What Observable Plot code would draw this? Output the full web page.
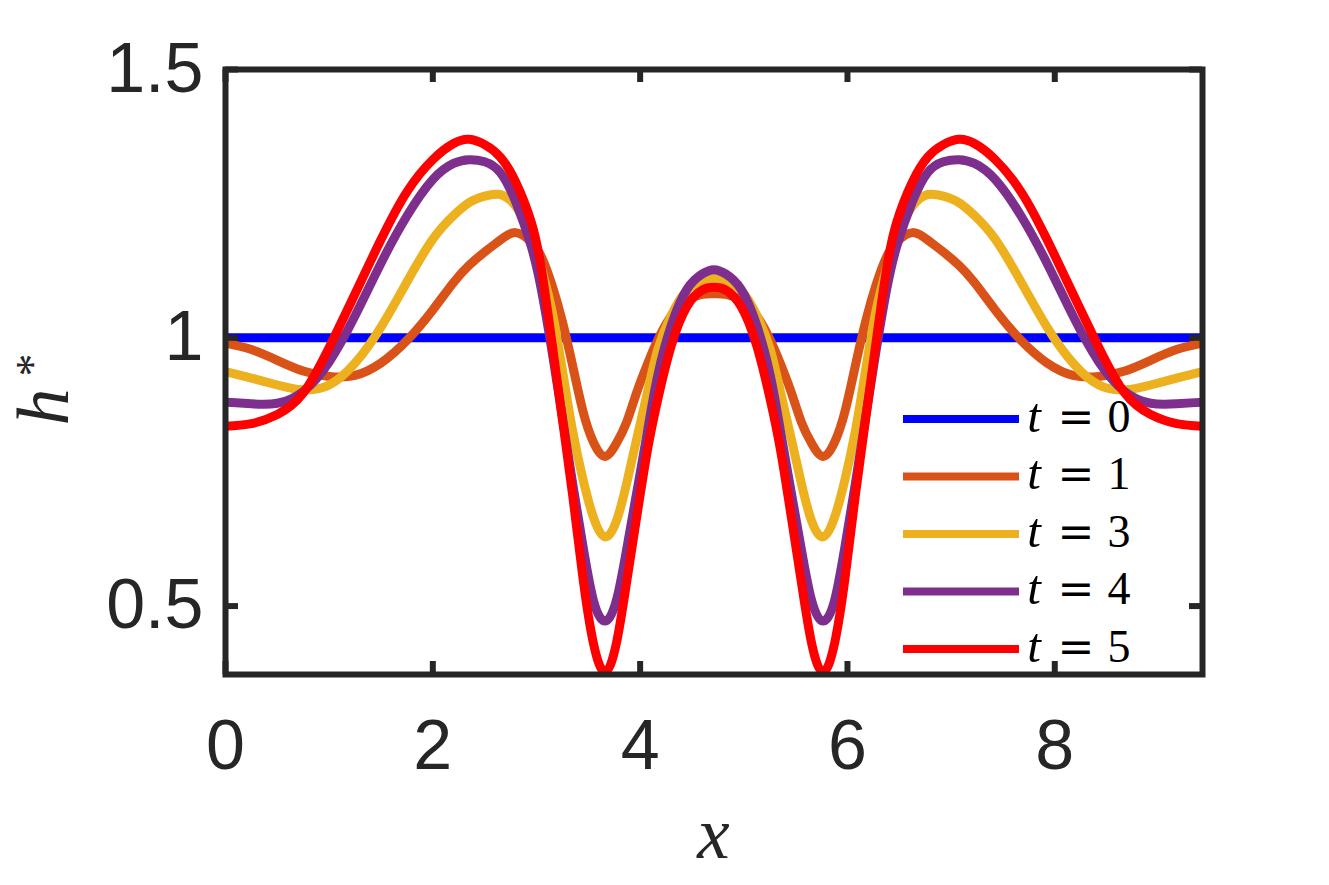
<!DOCTYPE html>
<html>
<head>
<meta charset="utf-8">
<script src="https://cdn.jsdelivr.net/npm/d3@7"></script>
<script src="https://cdn.jsdelivr.net/npm/@observablehq/plot@0.6"></script>
<style>
  body { margin: 0; background: #fff; }
  #chart svg { display: block; }
</style>
</head>
<body>
<div id="chart"></div>
<script>
// ---- data ----
const xGrid = [
  0, 0.25, 0.5, 0.75, 1.0, 1.25, 1.5, 1.75, 2.0, 2.2, 2.35, 2.5, 2.65, 2.8, 2.95, 3.05,
  3.15, 3.25, 3.35, 3.45, 3.55, 3.66, 3.77, 3.87, 3.97, 4.07, 4.17, 4.3, 4.45, 4.6, 4.712,
  4.825, 4.975, 5.125, 5.255, 5.355, 5.455, 5.555, 5.655, 5.765, 5.875, 5.975, 6.075,
  6.175, 6.275, 6.375, 6.475, 6.625, 6.775, 6.925, 7.075, 7.225, 7.425, 7.675, 7.925,
  8.175, 8.425, 8.675, 8.925, 9.175, 9.425
];

const h0x = [0, 9.425];
const h0 = [1, 1];

const h1 = [
  0.990, 0.978, 0.958, 0.938, 0.928, 0.930, 0.953, 0.995, 1.052, 1.103, 1.135, 1.160, 1.182, 1.196, 1.178, 1.150,
  1.098, 1.030, 0.947, 0.862, 0.805, 0.779, 0.803, 0.843, 0.900, 0.951, 0.996, 1.041, 1.070, 1.081, 1.082,
  1.081, 1.070, 1.041, 0.996, 0.951, 0.900, 0.843, 0.803, 0.779, 0.805, 0.862, 0.947,
  1.030, 1.098, 1.150, 1.178, 1.196, 1.182, 1.160, 1.135, 1.103, 1.052, 0.995, 0.953,
  0.930, 0.928, 0.938, 0.958, 0.978, 0.990
];

const h3 = [
  0.937, 0.925, 0.912, 0.903, 0.912, 0.953, 1.020, 1.104, 1.184, 1.228, 1.252, 1.264, 1.267, 1.245, 1.190, 1.128,
  1.050, 0.940, 0.825, 0.735, 0.665, 0.629, 0.658, 0.729, 0.814, 0.898, 0.978, 1.042, 1.088, 1.105, 1.111,
  1.105, 1.088, 1.042, 0.978, 0.898, 0.814, 0.729, 0.658, 0.629, 0.665, 0.735, 0.825,
  0.940, 1.050, 1.128, 1.190, 1.245, 1.267, 1.264, 1.252, 1.228, 1.184, 1.104, 1.020,
  0.953, 0.912, 0.903, 0.912, 0.925, 0.937
];

const h4 = [
  0.880, 0.877, 0.878, 0.900, 0.955, 1.041, 1.139, 1.227, 1.295, 1.325, 1.332, 1.328, 1.308, 1.253, 1.170, 1.087,
  0.975, 0.852, 0.727, 0.610, 0.510, 0.472, 0.510, 0.606, 0.715, 0.825, 0.930, 1.023, 1.090, 1.119, 1.127,
  1.119, 1.090, 1.023, 0.930, 0.825, 0.715, 0.606, 0.510, 0.472, 0.510, 0.610, 0.727,
  0.852, 0.975, 1.087, 1.170, 1.253, 1.308, 1.328, 1.332, 1.325, 1.295, 1.227, 1.139,
  1.041, 0.955, 0.900, 0.878, 0.877, 0.880
];

const h5 = [
  0.835, 0.840, 0.857, 0.897, 0.982, 1.082, 1.183, 1.272, 1.332, 1.362, 1.370, 1.360, 1.337, 1.290, 1.215, 1.125,
  0.990, 0.848, 0.705, 0.550, 0.430, 0.377, 0.430, 0.545, 0.670, 0.790, 0.885, 0.985, 1.058, 1.089, 1.094,
  1.089, 1.058, 0.985, 0.885, 0.790, 0.670, 0.545, 0.430, 0.377, 0.430, 0.550, 0.705,
  0.848, 0.990, 1.125, 1.215, 1.290, 1.337, 1.360, 1.370, 1.362, 1.332, 1.272, 1.183,
  1.082, 0.982, 0.897, 0.857, 0.840, 0.835
];

const seriesTimes = [0, 1, 3, 4, 5];
const seriesColors = ["#0000FF", "#D95319", "#EDB120", "#7E2F8E", "#FF0000"];
const xTicks = [0, 2, 4, 6, 8];
const xTickLabels = ["0", "2", "4", "6", "8"];
const yTicks = [0.5, 1, 1.5];
const yTickLabels = ["0.5", "1", "1.5"];
const xLabel = "x";
const yLabel = "h";
const yLabelSup = "*";

// ---- table for the library ----
const rows = [];
h0x.forEach((x, i) => rows.push({t: 0, x, h: h0[i]}));
[[1, h1], [3, h3], [4, h4], [5, h5]].forEach(([t, arr]) =>
  arr.forEach((h, i) => rows.push({t, x: xGrid[i], h}))
);

// ---- layout ----
const W = 1329, H = 885;
const mL = 225, mR = 127, mT = 69, mB = 211;
const innerW = W - mL - mR, innerH = H - mT - mB;
const sans = "'Liberation Sans', Arial, Helvetica, sans-serif";
const serif = "'Liberation Serif', 'Times New Roman', serif";
const axisColor = "#262626";
const tickLen = 13;

const plot = Plot.plot({
  width: W, height: H,
  marginLeft: mL, marginRight: mR, marginTop: mT, marginBottom: mB,
  style: {background: "#fff", fontFamily: sans, overflow: "visible"},
  x: {domain: [0, 9.425]},
  y: {domain: [0.3725, 1.5]},
  color: {type: "ordinal", domain: seriesTimes, range: seriesColors},
  marks: [
    Plot.line(rows, {x: "x", y: "h", z: "t", stroke: "t", strokeWidth: 9, strokeLinejoin: "round", strokeLinecap: "butt", curve: "natural"}),
    Plot.tickX(xTicks, {x: d => d, stroke: axisColor, strokeWidth: 6, insetTop: innerH - tickLen}),
    Plot.tickX(xTicks, {x: d => d, stroke: axisColor, strokeWidth: 6, insetBottom: innerH - tickLen}),
    Plot.tickY(yTicks, {y: d => d, stroke: axisColor, strokeWidth: 6, insetRight: innerW - tickLen}),
    Plot.tickY(yTicks, {y: d => d, stroke: axisColor, strokeWidth: 6, insetLeft: innerW - tickLen}),
    Plot.frame({stroke: axisColor, strokeWidth: 6}),
    Plot.axisX({
      ticks: xTicks, tickSize: 0, tickPadding: 45, label: null,
      tickFormat: d => xTickLabels[xTicks.indexOf(d)],
      fontSize: 70, fontFamily: sans, color: axisColor
    }),
    Plot.axisY({
      ticks: yTicks, tickSize: 0, tickPadding: 22, label: null,
      tickFormat: d => yTickLabels[yTicks.indexOf(d)],
      fontSize: 70, fontFamily: sans, color: axisColor
    })
  ]
});

const svg = d3.select(plot);

// x axis label
svg.append("text")
  .attr("x", mL + innerW / 2)
  .attr("y", 858)
  .attr("text-anchor", "middle")
  .attr("font-family", serif)
  .attr("font-style", "italic")
  .attr("font-size", 73)
  .attr("fill", axisColor)
  .text(xLabel);

// y axis label h*
const yl = svg.append("g").attr("transform", "translate(68,407) rotate(-90)");
yl.append("text").attr("x", 0).attr("y", 0)
  .attr("font-family", serif).attr("fill", axisColor)
  .attr("font-style", "italic").attr("font-size", 74).text(yLabel);
yl.append("text").attr("x", 42).attr("y", -20)
  .attr("font-family", serif).attr("fill", axisColor)
  .attr("font-size", 46).text(yLabelSup);

// legend
const leg = svg.append("g");
seriesTimes.forEach((t, i) => {
  const cy = 419 + i * 57.5;
  const base = cy + 12.7;
  leg.append("line")
    .attr("x1", 903).attr("x2", 1019).attr("y1", cy).attr("y2", cy)
    .attr("stroke", seriesColors[i]).attr("stroke-width", 8);
  leg.append("text")
    .attr("x", 1034).attr("y", base)
    .attr("font-family", serif).attr("font-style", "italic").attr("font-size", 49)
    .attr("fill", "#000").text("t");
  leg.append("text")
    .attr("x", 1076).attr("y", base).attr("text-anchor", "middle")
    .attr("font-family", "'DejaVu Serif', serif").attr("font-size", 44)
    .attr("fill", "#000").text("=");
  leg.append("text")
    .attr("x", 1119).attr("y", base).attr("text-anchor", "middle")
    .attr("font-family", serif).attr("font-size", 46)
    .attr("fill", "#000").text(String(t));
});

document.getElementById("chart").appendChild(plot);
</script>
</body>
</html>
